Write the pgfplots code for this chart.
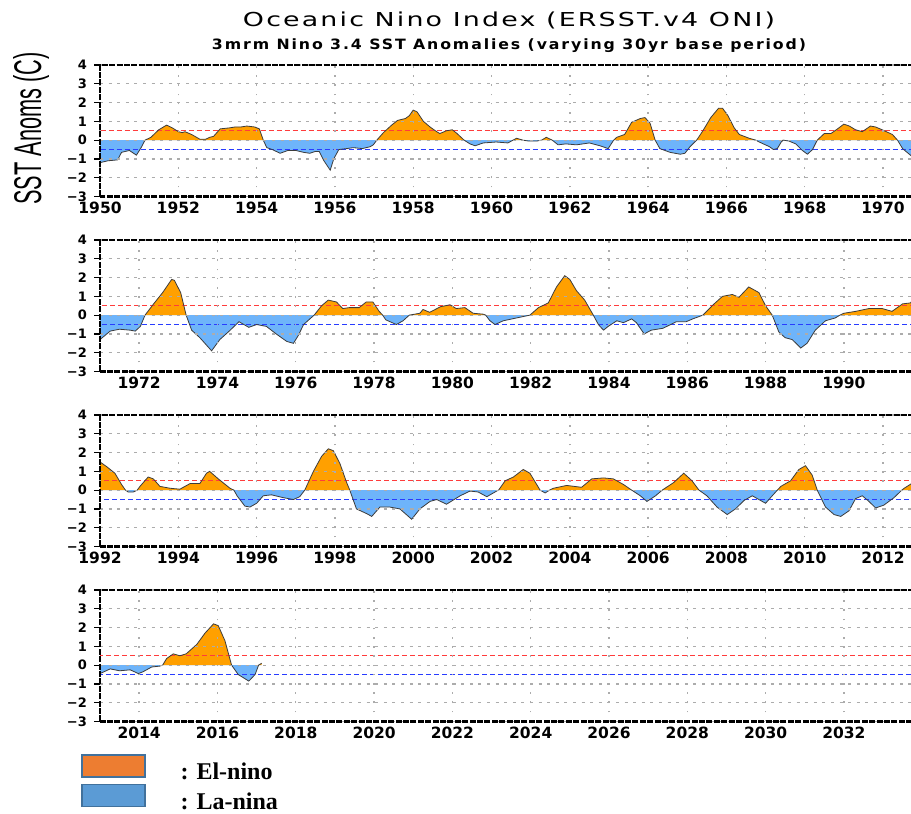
\documentclass[border=0pt]{standalone}
\usepackage{pgfplots}
\pgfplotsset{compat=1.18}
\usepackage{pgfplotstable}
\usepackage{graphicx}
\usepackage{fontspec}
\newfontfamily\dejavu{DejaVu Sans}
\newfontfamily\titlefont[LetterSpace=8]{DejaVu Sans}
\newfontfamily\subfont[LetterSpace=12]{DejaVu Sans}
\newfontfamily\libsans{Liberation Sans}
\newfontfamily\libserif{Liberation Serif}

\definecolor{elnino}{RGB}{255,160,0}
\definecolor{lanina}{RGB}{110,180,250}
\definecolor{redline}{RGB}{255,60,60}
\definecolor{blueline}{RGB}{40,60,255}
\definecolor{legorange}{RGB}{237,125,49}
\definecolor{legblue}{RGB}{91,155,213}
\definecolor{legborder}{RGB}{65,113,156}
\definecolor{curve}{RGB}{60,60,60}

\pgfplotstableread{
t v
1950.00 -1.20
1950.20 -1.10
1950.45 -1.05
1950.55 -0.65
1950.75 -0.55
1950.93 -0.80
1951.05 -0.40
1951.15 0.00
1951.30 0.15
1951.50 0.55
1951.70 0.80
1951.85 0.65
1952.00 0.45
1952.10 0.40
1952.17 0.45
1952.34 0.30
1952.55 0.05
1952.70 0.05
1952.80 0.15
1952.90 0.20
1953.07 0.60
1953.30 0.65
1953.45 0.70
1953.60 0.70
1953.75 0.75
1953.95 0.70
1954.07 0.60
1954.17 0.00
1954.26 -0.40
1954.40 -0.50
1954.60 -0.70
1954.80 -0.55
1955.00 -0.55
1955.20 -0.65
1955.36 -0.70
1955.50 -0.60
1955.60 -0.60
1955.72 -1.10
1955.88 -1.60
1955.97 -1.00
1956.10 -0.50
1956.30 -0.45
1956.47 -0.40
1956.70 -0.45
1956.90 -0.35
1956.98 -0.25
1957.07 0.00
1957.24 0.40
1957.45 0.80
1957.60 1.05
1957.80 1.15
1957.90 1.30
1958.00 1.60
1958.10 1.50
1958.26 1.00
1958.43 0.70
1958.60 0.45
1958.68 0.35
1958.85 0.50
1959.00 0.55
1959.12 0.35
1959.30 0.00
1959.45 -0.20
1959.58 -0.30
1959.79 -0.15
1960.12 -0.10
1960.42 -0.15
1960.55 0.00
1960.64 0.10
1960.80 0.00
1960.95 -0.05
1961.15 -0.05
1961.28 0.00
1961.40 0.15
1961.55 0.00
1961.70 -0.25
1961.90 -0.20
1962.17 -0.25
1962.50 -0.15
1962.77 -0.30
1962.98 -0.45
1963.12 0.00
1963.20 0.15
1963.40 0.30
1963.58 0.95
1963.80 1.15
1963.92 1.20
1964.05 0.90
1964.18 0.00
1964.30 -0.45
1964.56 -0.65
1964.82 -0.75
1964.94 -0.70
1965.07 -0.35
1965.24 0.00
1965.40 0.50
1965.60 1.20
1965.80 1.70
1965.90 1.70
1966.04 1.30
1966.20 0.65
1966.33 0.30
1966.58 0.10
1966.75 0.00
1966.84 -0.10
1967.10 -0.35
1967.20 -0.50
1967.30 -0.45
1967.40 -0.10
1967.45 0.00
1967.60 -0.05
1967.77 -0.20
1967.94 -0.55
1968.07 -0.75
1968.20 -0.50
1968.32 0.00
1968.50 0.35
1968.67 0.35
1968.84 0.60
1969.00 0.85
1969.14 0.75
1969.30 0.55
1969.47 0.45
1969.68 0.75
1969.81 0.70
1969.98 0.55
1970.24 0.30
1970.37 0.00
1970.50 -0.45
1970.70 -0.80
1970.85 -1.05
1971.00 -1.30
1971.26 -0.85
1971.50 -0.75
1971.77 -0.80
1971.90 -0.85
1972.03 -0.60
1972.15 0.00
1972.37 0.60
1972.60 1.20
1972.83 1.90
1972.90 1.85
1973.06 1.20
1973.20 0.00
1973.34 -0.80
1973.55 -1.20
1973.85 -1.90
1974.06 -1.30
1974.30 -0.85
1974.55 -0.35
1974.80 -0.65
1975.00 -0.50
1975.25 -0.60
1975.50 -1.00
1975.77 -1.40
1975.94 -1.50
1976.06 -1.10
1976.20 -0.50
1976.36 -0.20
1976.47 0.00
1976.66 0.50
1976.83 0.80
1977.04 0.70
1977.20 0.35
1977.37 0.40
1977.62 0.40
1977.80 0.70
1977.97 0.70
1978.13 0.20
1978.22 0.00
1978.30 -0.25
1978.57 -0.50
1978.74 -0.30
1978.90 0.00
1979.17 0.10
1979.25 0.30
1979.42 0.15
1979.70 0.45
1979.94 0.55
1980.10 0.35
1980.32 0.40
1980.53 0.10
1980.79 0.05
1980.85 0.00
1980.96 -0.30
1981.09 -0.50
1981.30 -0.30
1981.64 -0.15
1981.98 0.00
1982.20 0.40
1982.45 0.65
1982.66 1.50
1982.87 2.10
1983.00 1.90
1983.17 1.30
1983.38 0.80
1983.60 0.00
1983.73 -0.50
1983.86 -0.80
1983.98 -0.60
1984.20 -0.30
1984.37 -0.40
1984.58 -0.20
1984.70 -0.40
1984.90 -1.00
1985.08 -0.80
1985.38 -0.70
1985.72 -0.35
1985.97 -0.35
1986.14 -0.20
1986.40 0.00
1986.66 0.55
1986.90 1.00
1987.15 1.10
1987.32 0.95
1987.57 1.50
1987.83 1.20
1988.00 0.50
1988.17 0.00
1988.34 -0.90
1988.50 -1.20
1988.68 -1.30
1988.90 -1.75
1989.06 -1.50
1989.27 -0.80
1989.53 -0.30
1989.78 -0.15
1989.90 0.00
1990.00 0.10
1990.30 0.20
1990.64 0.35
1990.98 0.35
1991.23 0.20
1991.50 0.60
1991.70 0.65
1991.85 1.00
1992.00 1.50
1992.17 1.25
1992.38 0.90
1992.55 0.30
1992.65 0.00
1992.72 -0.10
1992.85 -0.10
1992.95 0.00
1993.02 0.20
1993.23 0.70
1993.36 0.60
1993.53 0.20
1993.79 0.10
1994.04 0.05
1994.30 0.35
1994.55 0.35
1994.72 0.90
1994.80 1.00
1995.02 0.60
1995.32 0.10
1995.42 0.00
1995.50 -0.30
1995.70 -0.85
1995.83 -0.90
1996.00 -0.70
1996.17 -0.30
1996.38 -0.25
1996.68 -0.40
1996.94 -0.50
1997.10 -0.35
1997.23 0.00
1997.45 1.00
1997.66 1.80
1997.83 2.20
1997.96 2.10
1998.13 1.40
1998.30 0.40
1998.38 0.00
1998.43 -0.30
1998.55 -1.00
1998.81 -1.25
1998.94 -1.40
1999.15 -0.90
1999.40 -0.90
1999.66 -1.00
1999.96 -1.55
2000.17 -1.00
2000.43 -0.60
2000.60 -0.50
2000.85 -0.75
2001.20 -0.30
2001.45 -0.05
2001.66 -0.10
2001.88 -0.35
2002.13 -0.05
2002.18 0.00
2002.35 0.50
2002.56 0.70
2002.81 1.10
2002.98 0.90
2003.24 0.00
2003.37 -0.15
2003.48 0.00
2003.58 0.10
2003.92 0.25
2004.30 0.15
2004.56 0.60
2004.86 0.65
2005.11 0.60
2005.37 0.30
2005.58 0.00
2005.80 -0.30
2005.97 -0.60
2006.19 -0.30
2006.36 0.00
2006.65 0.40
2006.91 0.90
2007.12 0.50
2007.30 0.00
2007.50 -0.30
2007.76 -0.90
2008.02 -1.30
2008.23 -1.00
2008.45 -0.55
2008.66 -0.30
2008.83 -0.50
2009.00 -0.70
2009.17 -0.30
2009.30 0.00
2009.39 0.20
2009.64 0.50
2009.85 1.10
2010.02 1.30
2010.19 0.80
2010.32 0.00
2010.53 -0.90
2010.75 -1.30
2010.92 -1.40
2011.13 -1.10
2011.30 -0.45
2011.47 -0.30
2011.64 -0.60
2011.81 -0.95
2012.02 -0.80
2012.28 -0.40
2012.48 0.00
2012.54 0.10
2012.73 0.35
2012.85 0.15
2012.92 0.00
2013.00 -0.45
2013.26 -0.20
2013.50 -0.30
2013.77 -0.25
2013.98 -0.45
2014.10 -0.35
2014.32 -0.10
2014.53 -0.05
2014.60 0.00
2014.70 0.35
2014.87 0.60
2015.04 0.50
2015.20 0.60
2015.47 1.10
2015.68 1.70
2015.90 2.20
2016.02 2.10
2016.19 1.30
2016.36 0.00
2016.53 -0.50
2016.80 -0.85
2016.96 -0.50
2017.05 0.00
2017.13 0.10
}\oni

\pgfplotsset{
  panel/.style={
    scale only axis,
    width=822.15pt, height=131.5pt,
    anchor=north west,
    ymin=-3, ymax=4,
    ytick={-3,-2,-1,0,1,2,3,4},
    yticklabels={−3,−2,−1,0,1,2,3,4},
    axis on top,
    xmajorgrids, ymajorgrids,
    x grid style={gray!65, line width=1.4pt, dash pattern=on 1.6pt off 7.6pt},
    y grid style={gray!65, line width=1.2pt, dash pattern=on 3pt off 5.6pt},
    axis line style={black, line width=2.2pt, dash pattern=on 6pt off 1.4pt},
    /pgf/number format/1000 sep={},
    /pgf/number format/assume math mode=true,
    xtick style={draw=none},
    ytick style={black, line width=1.2pt},
    ytick align=outside,
    major tick length=6pt,
    yticklabel style={font=\dejavu\bfseries\fontsize{13}{13}\selectfont, inner sep=0pt, anchor=east, xshift=-7pt},
    xticklabel style={font=\dejavu\bfseries\fontsize{15.5}{16}\selectfont, inner sep=0pt, anchor=north, yshift=-5pt},
  },
  fillpos/.style={fill=elnino, draw=none, forget plot},
  fillneg/.style={fill=lanina, draw=none, forget plot},
}

\newcommand{\panelplots}{%
  \addplot[fillpos] table[x=t, y expr={max(\thisrow{v},0)}] {\oni} \closedcycle;
  \addplot[fillneg] table[x=t, y expr={min(\thisrow{v},0)}] {\oni} \closedcycle;
  \addplot[redline, line width=1.5pt, dash pattern=on 5pt off 3pt, forget plot] coordinates {(1940,0.5) (2040,0.5)};
  \addplot[blueline, line width=1.5pt, dash pattern=on 5pt off 3pt, forget plot] coordinates {(1940,-0.5) (2040,-0.5)};
  \addplot[curve, line width=0.8pt, forget plot] table[x=t, y=v] {\oni};
}

\begin{document}
\begin{tikzpicture}
\useasboundingbox (0pt,0pt) rectangle (911pt,814pt);
\fill[white] (0pt,0pt) rectangle (911pt,814pt);

\node[anchor=base, inner sep=0pt] at (509pt,787pt)
  {\resizebox{532pt}{14.6pt}{\titlefont Oceanic Nino Index (ERSST.v4 ONI)}};
\node[anchor=base, inner sep=0pt] at (509pt,764pt)
  {\resizebox{594pt}{10.8pt}{\subfont\bfseries 3mrm Nino 3.4 SST Anomalies (varying 30yr base period)}};
\node[rotate=90, anchor=base, inner sep=0pt] at (41pt,685.5pt)
  {\resizebox{152pt}{28pt}{\libsans SST Anoms (C)}};

\begin{axis}[panel, at={(100pt,749pt)}, xmin=1950, xmax=1971,
  xtick={1950,1952,...,1970}]
\panelplots
\end{axis}

\begin{axis}[panel, at={(100pt,574pt)}, xmin=1971, xmax=1992,
  xtick={1972,1974,...,1990}]
\panelplots
\end{axis}

\begin{axis}[panel, at={(100pt,399pt)}, xmin=1992, xmax=2013,
  xtick={1992,1994,...,2012}]
\panelplots
\end{axis}

\begin{axis}[panel, at={(100pt,224pt)}, xmin=2013, xmax=2034,
  xtick={2014,2016,...,2032},
  legend cell align=left,
  legend style={at={(axis description cs:-0.02275,-0.2494)}, anchor=north west,
    draw=none, fill=none, inner sep=0pt, outer sep=0pt, row sep=2.5pt,
    nodes={inner sep=0.5pt},
    font=\libserif\bfseries\fontsize{24}{24}\selectfont}]
\panelplots
\addlegendimage{legend image code/.code={%
  \draw[fill=legorange, draw=legborder, line width=1.4pt] (0pt,-5pt) rectangle (63pt,17pt);
  \path[draw=none, fill=none] (0pt,0pt) -- (98pt,0pt);}}
\addlegendentry{: El-nino}
\addlegendimage{legend image code/.code={%
  \draw[fill=legblue, draw=legborder, line width=1.4pt] (0pt,-5pt) rectangle (63pt,17pt);
  \path[draw=none, fill=none] (0pt,0pt) -- (98pt,0pt);}}
\addlegendentry{: La-nina}
\end{axis}
\end{tikzpicture}
\end{document}
